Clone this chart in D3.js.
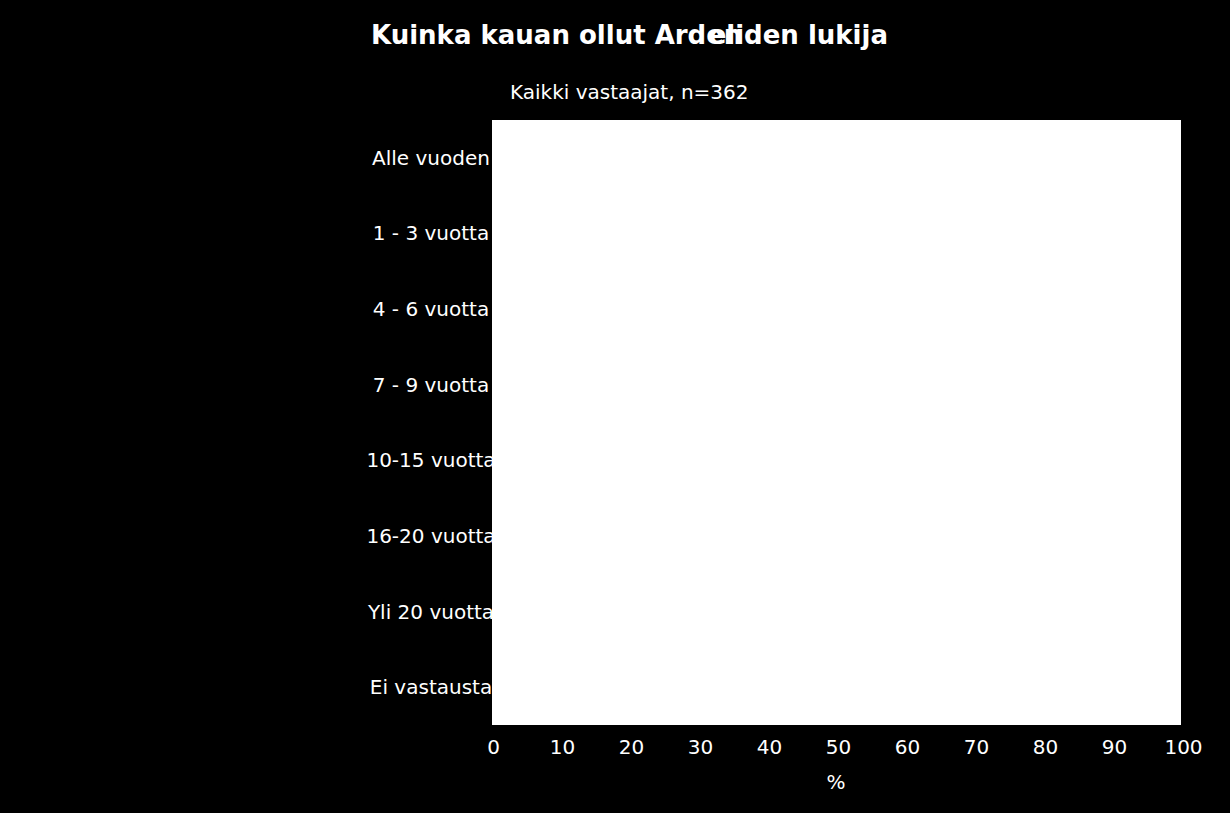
<!DOCTYPE html>
<html>
<head>
<meta charset="utf-8">
<title>Kuinka kauan ollut Ardenin lukija</title>
<script src="https://cdn.jsdelivr.net/npm/d3@7"></script>
<style>
  body { margin: 0; background: #000; }
  text { font-family: "DejaVu Sans", sans-serif; fill: #fff; }
</style>
</head>
<body>
<script>
  var categories = ["Alle vuoden", "1 - 3 vuotta", "4 - 6 vuotta", "7 - 9 vuotta",
                    "10-15 vuotta", "16-20 vuotta", "Yli 20 vuotta", "Ei vastausta"];
  var xTicks = [0, 10, 20, 30, 40, 50, 60, 70, 80, 90, 100];

  var width = 1230,
      height = 813,
      plotLeft = 492, plotRight = 1181,
      plotTop = 120, plotBottom = 725;

  var svg = d3.select("body").append("svg")
      .attr("width", width)
      .attr("height", height);

  svg.append("rect").attr("width", width).attr("height", height).attr("fill", "#000");

  var x = d3.scaleLinear().domain([0, 100]).range([plotLeft + 1, plotRight + 2]);
  var y = d3.scaleBand().domain(categories).range([plotTop, plotBottom]);

  // title (two pieces overlapping, as in the original)
  svg.append("text")
      .attr("x", 371).attr("y", 44)
      .style("font-size", "26px").style("font-weight", "bold")
      .text("Kuinka kauan ollut Arden");
  svg.append("text")
      .attr("x", 888).attr("y", 44)
      .attr("text-anchor", "end")
      .style("font-size", "26px").style("font-weight", "bold")
      .text("eliden lukija");

  svg.append("text")
      .attr("x", 510).attr("y", 99)
      .style("font-size", "20px")
      .text("Kaikki vastaajat, n=362");

  // category labels, drawn before the plot area so it clips them
  svg.append("g").selectAll("text")
      .data(categories)
    .enter().append("text")
      .attr("x", 431)
      .attr("y", function (d) { return y(d) + y.bandwidth() / 2; })
      .attr("dy", "0.35em")
      .attr("text-anchor", "middle")
      .style("font-size", "20px")
      .text(function (d) { return d; });

  svg.append("rect")
      .attr("x", plotLeft).attr("y", plotTop)
      .attr("width", plotRight - plotLeft).attr("height", plotBottom - plotTop)
      .attr("fill", "#fff");

  var xAxis = svg.append("g")
      .attr("transform", "translate(0," + plotBottom + ")")
      .call(d3.axisBottom(x).tickValues(xTicks).tickSize(0).tickPadding(15));
  xAxis.select(".domain").remove();
  xAxis.selectAll("text")
      .style("font-size", "20px")
      .attr("fill", "#fff");

  svg.append("text")
      .attr("x", 836).attr("y", 789)
      .attr("text-anchor", "middle")
      .style("font-size", "20px")
      .text("%");
</script>
</body>
</html>
